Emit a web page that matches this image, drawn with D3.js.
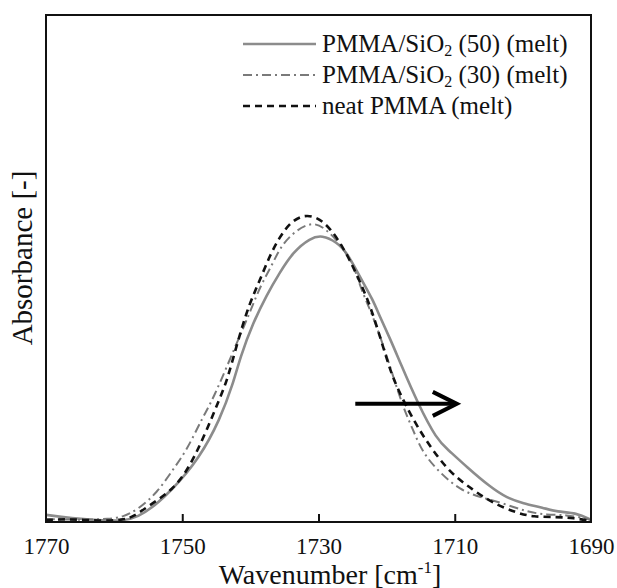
<html>
  <body style="margin:0">
    <script src="https://cdnjs.cloudflare.com/ajax/libs/d3/7.8.5/d3.min.js"></script>
    <script type="text/javascript">
      // values: wavenumber [cm-1] and absorbance (arbitrary units)
      const wn50 = [1770, 1766.5, 1761, 1756.6, 1751.4, 1747.4, 1744.5, 1742.5, 1741.5, 1739.6, 1737.6, 1735.7, 1733.7, 1731.2, 1729.5, 1727.3, 1725.8, 1723.9, 1722, 1721, 1719.5, 1718, 1715.4, 1712.6, 1711.1, 1708.2, 1704.8, 1702.3, 1700, 1697, 1695, 1692.1, 1690];
      const abs50 = [0.014, 0.008, 0.002, 0.002, 0.063, 0.128, 0.201, 0.274, 0.325, 0.393, 0.448, 0.492, 0.533, 0.560, 0.566, 0.552, 0.531, 0.483, 0.438, 0.405, 0.362, 0.314, 0.233, 0.162, 0.144, 0.108, 0.069, 0.047, 0.037, 0.028, 0.020, 0.018, 0.004];

      const wn30 = [1770, 1765, 1760.6, 1758.7, 1756.6, 1753.7, 1751.4, 1749.3, 1747, 1745.5, 1742, 1740.1, 1738.6, 1736.8, 1735.7, 1733.7, 1730.8, 1728.8, 1727.3, 1724.9, 1723.9, 1722.4, 1721, 1719.1, 1717.6, 1716.1, 1714.7, 1712.2, 1709.2, 1706.3, 1702.9, 1699.4, 1696.5, 1693.5, 1691.2, 1690];
      const abs30 = [0.006, 0.004, 0.006, 0.010, 0.024, 0.057, 0.103, 0.142, 0.207, 0.241, 0.353, 0.412, 0.464, 0.507, 0.540, 0.572, 0.594, 0.576, 0.556, 0.511, 0.464, 0.418, 0.369, 0.290, 0.227, 0.181, 0.136, 0.097, 0.063, 0.049, 0.037, 0.020, 0.014, 0.014, 0.008, 0.004];

      const wnNeat = [1770, 1766.5, 1762.1, 1758.7, 1757.2, 1754.7, 1751.4, 1748.9, 1746.4, 1744, 1743.3, 1741.5, 1740.1, 1738.6, 1737.1, 1735.7, 1734.2, 1732.3, 1730.2, 1728.3, 1726.4, 1724.9, 1722.9, 1721.4, 1719.5, 1718.5, 1716.1, 1713.6, 1710.7, 1707.3, 1704.4, 1700.9, 1698.5, 1695, 1692.6, 1690];
      const absNeat = [0.004, 0.006, 0.002, 0.004, 0.010, 0.034, 0.063, 0.108, 0.181, 0.260, 0.285, 0.373, 0.432, 0.477, 0.527, 0.562, 0.590, 0.606, 0.602, 0.580, 0.542, 0.503, 0.444, 0.385, 0.300, 0.266, 0.201, 0.148, 0.097, 0.063, 0.037, 0.018, 0.010, 0.010, 0.008, 0.002];

      const seriesNames = ["PMMA/SiO|2| (50) (melt)", "PMMA/SiO|2| (30) (melt)", "neat PMMA (melt)"];
      const xTicks = [1770, 1750, 1730, 1710, 1690];
      const arrowFrom = 1724.6, arrowTo = 1709.7, arrowAbs = 0.233;

      const W = 617, H = 588;
      const m = { left: 46, right: 591, top: 15, bottom: 522 };
      const fontFam = '"Liberation Serif"';

      const svg = d3.select("body").append("svg").attr("width", W).attr("height", H)
        .style("display", "block");

      const x = d3.scaleLinear().domain([1770, 1690]).range([m.left, m.right]);
      const y = d3.scaleLinear().domain([0, 1]).range([m.bottom, m.top]);

      const styles = [
        { stroke: "#8c8c8c", width: 2.6, dash: null },
        { stroke: "#7a7a7a", width: 2, dash: "9,4,2,4" },
        { stroke: "#111", width: 2.6, dash: "7,5" }
      ];
      const series = [
        d3.zip(wn50, abs50),
        d3.zip(wn30, abs30),
        d3.zip(wnNeat, absNeat)
      ];

      const line = d3.line().x(d => x(d[0])).y(d => y(d[1])).curve(d3.curveBasis);

      svg.append("defs").append("clipPath").attr("id", "clip")
        .append("rect").attr("x", m.left).attr("y", m.top)
        .attr("width", m.right - m.left).attr("height", m.bottom - m.top);

      svg.selectAll("path.series")
        .data(series)
        .enter()
        .append("path")
        .attr("class", "series")
        .attr("clip-path", "url(#clip)")
        .attr("d", d => line(d))
        .attr("fill", "none")
        .attr("stroke", (d, i) => styles[i].stroke)
        .attr("stroke-width", (d, i) => styles[i].width)
        .attr("stroke-dasharray", (d, i) => styles[i].dash);

      // frame
      svg.append("rect")
        .attr("x", m.left).attr("y", m.top)
        .attr("width", m.right - m.left).attr("height", m.bottom - m.top)
        .attr("fill", "none").attr("stroke", "#111").attr("stroke-width", 2);

      // x axis: inward ticks, labels below
      const xAxis = d3.axisBottom(x).tickValues(xTicks).tickSize(-8).tickPadding(16).tickFormat(d3.format("d"));
      const gx = svg.append("g").attr("transform", `translate(0,${m.bottom})`).call(xAxis);
      gx.attr("font-family", fontFam).attr("font-size", 23);
      gx.select(".domain").remove();
      gx.selectAll(".tick line").attr("stroke", "#111").attr("stroke-width", 2)
        .filter(d => d === 1770 || d === 1690).remove();
      gx.selectAll(".tick text").attr("fill", "#111");

      // axis titles
      const xt = svg.append("text")
        .attr("x", 330).attr("y", 584)
        .attr("text-anchor", "middle")
        .attr("fill", "#111")
        .style("font-family", fontFam)
        .style("font-size", "28px");
      xt.append("tspan").text("Wavenumber [cm");
      xt.append("tspan").attr("dy", -11).style("font-size", "17px").text("-1");
      xt.append("tspan").attr("dy", 11).text("]");

      svg.append("text")
        .attr("transform", "translate(32,258) rotate(-90)")
        .attr("text-anchor", "middle")
        .attr("fill", "#111")
        .style("font-family", fontFam)
        .style("font-size", "29px")
        .text("Absorbance [-]");

      // legend
      const leg = svg.append("g");
      const rowY = [44, 75, 106];
      seriesNames.forEach((name, i) => {
        leg.append("line")
          .attr("x1", 243).attr("x2", 316)
          .attr("y1", rowY[i]).attr("y2", rowY[i])
          .attr("stroke", styles[i].stroke)
          .attr("stroke-width", styles[i].width)
          .attr("stroke-dasharray", styles[i].dash);
        const t = leg.append("text")
          .attr("x", 322).attr("y", rowY[i] + 8)
          .attr("fill", "#111")
          .style("font-family", fontFam)
          .style("font-size", "25px");
        const parts = name.split("|");
        t.append("tspan").text(parts[0]);
        if (parts.length > 1) {
          t.append("tspan").attr("dy", 4).style("font-size", "16px").text(parts[1]);
          t.append("tspan").attr("dy", -4).text(parts[2]);
        }
      });

      // shift arrow
      const ay = y(arrowAbs);
      svg.append("line")
        .attr("x1", x(arrowFrom)).attr("x2", x(arrowTo) - 2)
        .attr("y1", ay).attr("y2", ay)
        .attr("stroke", "#000").attr("stroke-width", 4);
      svg.append("path")
        .attr("d", `M${x(arrowTo) - 24},${ay - 12} L${x(arrowTo)},${ay} L${x(arrowTo) - 24},${ay + 12}`)
        .attr("fill", "none").attr("stroke", "#000").attr("stroke-width", 4)
        .attr("stroke-linejoin", "miter");
    </script>
  </body>
</html>
